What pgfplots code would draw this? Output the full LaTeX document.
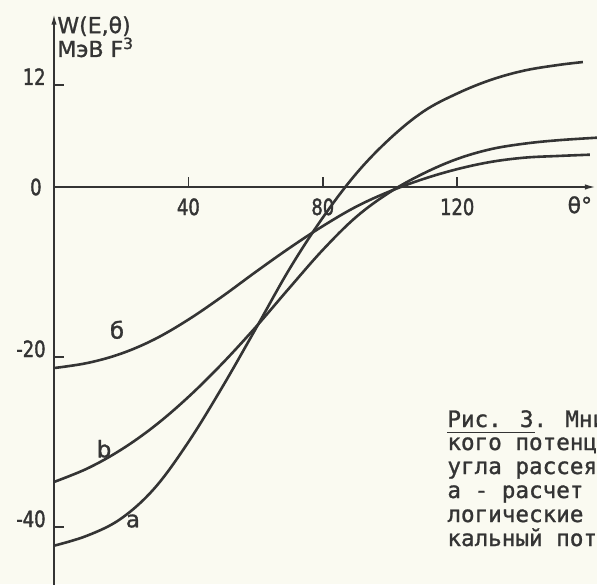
\documentclass[border=0pt]{standalone}
\usepackage{pgfplots}
\pgfplotsset{compat=1.18}
\usetikzlibrary{arrows.meta}
\usepackage{fontspec}
\setmainfont{DejaVu Sans}[FakeBold=1.2]
\newfontfamily\labfont{DejaVu Sans}[FakeBold=1.2]
\newfontfamily\tickfont{DejaVu Sans}[FakeStretch=0.8, FakeBold=1.6]
\newfontfamily\capfont{DejaVu Sans Mono}[FakeBold=1.2]
\definecolor{ink}{RGB}{52,52,52}
\definecolor{paper}{RGB}{250,250,241}

\begin{document}
\begin{tikzpicture}
  % page frame and paper tone
  \path[use as bounding box] (0,0) rectangle (298.5pt,292pt);
  \clip (0,0) rectangle (298.5pt,292pt);
  \fill[paper] (0,0) rectangle (298.5pt,292pt);

  \begin{axis}[
    at={(27pt,-1.25pt)}, anchor=south west,
    x=1.68pt, y=4.25pt,
    xmin=0, xmax=161.6, ymin=-47, ymax=20.5,
    enlargelimits=false, clip=false,
    axis lines=middle,
    axis line style={ink, line width=1pt, -{Latex[length=6pt,width=2.6pt]}},
    hide obscured x ticks=false, hide obscured y ticks=false,
    xtick={40,80,120}, ytick={-40,-20,12},
    tick style={ink, line width=0.8pt},
    major tick length=5pt,
    tick align=inside,
    /pgf/number format/assume math mode=true,
    xticklabel style={font=\tickfont\fontsize{11.2}{13}\selectfont, text=ink,
                      anchor=north, inner sep=0pt, yshift=-5.5pt},
    yticklabel style={font=\tickfont\fontsize{11.2}{13}\selectfont, text=ink,
                      anchor=base east, inner sep=0pt, xshift=-4pt},
  ]
    % curve a
    \addplot[ink, line width=1.3pt, smooth, tension=0.6] coordinates {
      (0,-42.2) (10,-41.0) (20,-39.0) (30,-35.4) (40,-30.0) (50,-23.6)
      (60,-16.7) (70,-9.7) (80,-3.6) (90,1.6) (100,5.7) (110,8.9)
      (120,11.0) (130,12.6) (140,13.7) (150,14.35) (157.4,14.7)
    };
    % curve b
    \addplot[ink, line width=1.3pt, smooth, tension=0.6] coordinates {
      (0,-34.7) (10,-33.1) (20,-30.9) (30,-28.1) (40,-24.7) (50,-20.8)
      (60,-16.5) (70,-11.9) (80,-7.4) (90,-3.5) (100,-0.6) (110,1.6)
      (120,3.3) (130,4.45) (140,5.1) (150,5.5) (161.6,5.8)
    };
    % curve б
    \addplot[ink, line width=1.3pt, smooth, tension=0.6] coordinates {
      (0,-21.3) (10,-20.7) (20,-19.6) (30,-17.9) (40,-15.6) (50,-12.9)
      (60,-10.0) (70,-7.2) (80,-4.6) (90,-2.3) (100,-0.5) (110,0.95)
      (120,2.1) (130,2.95) (140,3.45) (150,3.65) (159.5,3.8)
    };

    % zero mark on the vertical axis (the horizontal axis runs through it)
    \node[text=ink, anchor=east, inner sep=0pt, xshift=-6pt,
          font=\tickfont\fontsize{11.2}{13}\selectfont] at (axis cs:0,0) {0};

    % curve names
    \node[text=ink, font=\labfont\fontsize{11.5}{13}\selectfont] at (axis cs:18.75,-16.8) {б};
    \node[text=ink, font=\labfont\fontsize{11.5}{13}\selectfont] at (axis cs:14.9,-30.8) {b};
    \node[text=ink, font=\labfont\fontsize{11.5}{13}\selectfont] at (axis cs:23.5,-39.3) {а};

    % axis titles
    \node[text=ink, anchor=base west, inner sep=0pt, font=\labfont\fontsize{11}{13}\selectfont]
      at (axis cs:0.9,18.1) {W(E,θ)};
    \node[text=ink, anchor=base west, inner sep=0pt, font=\labfont\fontsize{11}{13}\selectfont]
      at (axis cs:0.9,15.3) {МэВ F\textsuperscript{3}};
    \node[text=ink, font=\labfont\fontsize{11}{13}\selectfont]
      at (axis cs:156.5,-2.1) {θ°};
  \end{axis}

  % figure caption beside the plot
  \begin{scope}[x=0.5pt, y=-0.5pt, shift={(0,292pt)},
                every node/.style={anchor=base west, inner sep=0pt, text=ink,
                                   font=\capfont\fontsize{11.3}{13}\selectfont}]
    \node at (447,427) {Рис. 3. Мни};
    \node at (447,450) {кого потенц};
    \node at (447,474) {угла рассея};
    \node at (447,498) {а - расчет};
    \node at (447,522) {логические};
    \node at (447,546) {кальный пот};
    \draw[ink, line width=0.8pt] (447,432.5) -- (535,432.5);
  \end{scope}
\end{tikzpicture}
\end{document}
